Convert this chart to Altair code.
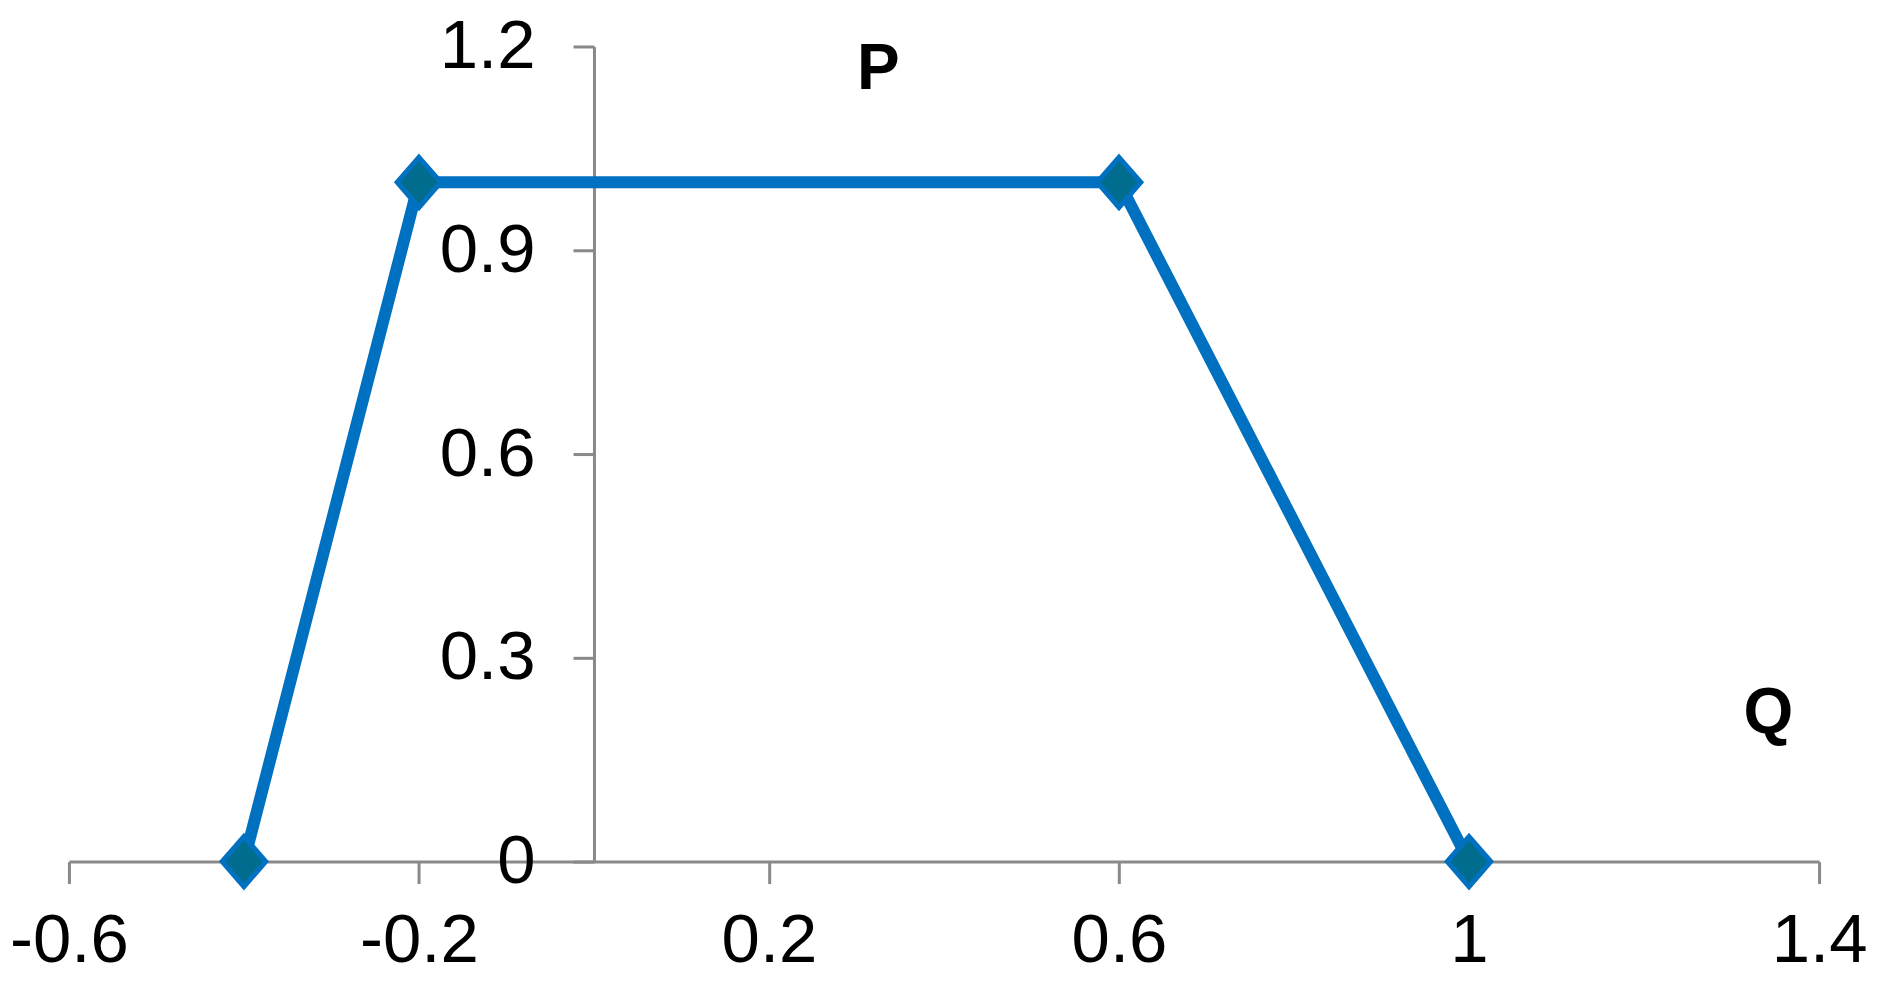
import altair as alt
import pandas as pd

# data
q_values = [-0.4, -0.2, 0.6, 1.0]
p_values = [0, 1, 1, 0]
x_ticks = [-0.6, -0.2, 0.2, 0.6, 1.0, 1.4]
y_ticks = [0, 0.3, 0.6, 0.9, 1.2]
label_text = ["P", "Q"]
label_x = [0.325, 1.342]
label_y = [1.165, 0.218]

W, H = 1752, 816
X_MIN, X_MAX = -0.6, 1.4
Y_MIN, Y_MAX = 0, 1.2

df = pd.DataFrame({"Q": q_values, "P": p_values})
lab = pd.DataFrame({"t": label_text, "x": label_x, "y": label_y})

AX = "#898989"
FONT = "Liberation Sans"

x_scale = alt.Scale(domain=[X_MIN, X_MAX], nice=False, zero=False)
y_scale = alt.Scale(domain=[Y_MIN, Y_MAX], nice=False, zero=False)

x_axis = alt.Axis(
    values=x_ticks, title=None, grid=False, labelExpr="'' + datum.value",
    domainColor=AX, domainWidth=3, tickColor=AX, tickWidth=3, tickSize=22,
    labelFont=FONT, labelFontSize=69, labelColor="#000000", labelPadding=23,
    labelFlush=False, labelOverlap=False,
)
y_axis = alt.Axis(
    values=y_ticks, title=None, grid=False, labelExpr="'' + datum.value",
    domainColor=AX, domainWidth=3, tickColor=AX, tickWidth=3, tickSize=21,
    labelFont=FONT, labelFontSize=69, labelColor="#000000", labelPadding=38,
    labelFlush=False, labelOverlap=False,
    offset=-(0 - X_MIN) / (X_MAX - X_MIN) * W,
)

base = alt.Chart(df)
line = base.mark_line(color="#0070C0", strokeWidth=12).encode(
    x=alt.X("Q:Q", scale=x_scale, axis=x_axis),
    y=alt.Y("P:Q", scale=y_scale, axis=y_axis),
)
pts = base.mark_point(
    shape="M0,-1.15L1,0L0,1.15L-1,0Z", filled=True, size=1900,
    fill="#006d8f", stroke="#0070C0", strokeWidth=5, opacity=1,
).encode(
    x=alt.X("Q:Q", scale=x_scale),
    y=alt.Y("P:Q", scale=y_scale),
)
txt = alt.Chart(lab).mark_text(
    font=FONT, fontSize=64, fontWeight="bold", color="#000000",
    align="center", baseline="middle",
).encode(
    x=alt.X("x:Q", scale=x_scale),
    y=alt.Y("y:Q", scale=y_scale),
    text="t:N",
)

chart = (
    alt.layer(line, pts, txt)
    .properties(
        width=W, height=H,
        autosize=alt.AutoSizeParams(type="none"),
        padding={"left": 61, "top": 38, "right": 50, "bottom": 120},
        background="#ffffff",
    )
    .configure_view(stroke=None)
)

chart.save("out.html", embed_options={"renderer": "svg", "actions": False})
